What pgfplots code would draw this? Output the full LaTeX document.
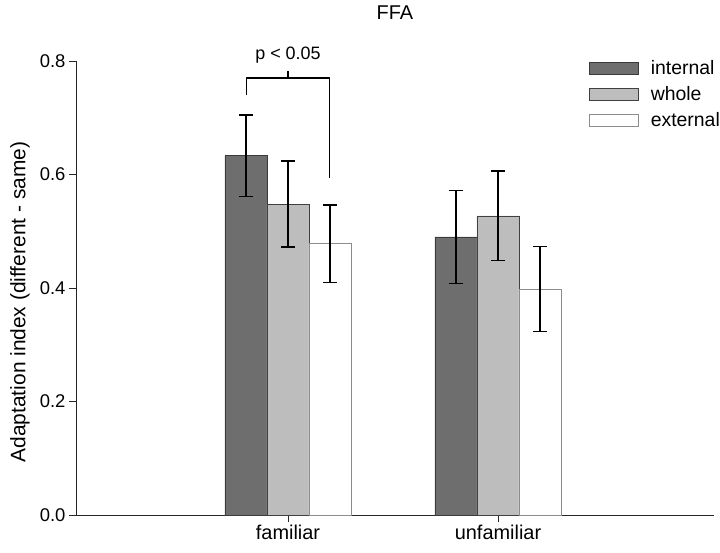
\documentclass[border=0pt]{standalone}
\usepackage{fontspec}
\setmainfont{Liberation Sans}
\usepackage{pgfplots}
\pgfplotsset{compat=1.18}
\definecolor{cint}{HTML}{6E6E6E}
\definecolor{cintd}{HTML}{3A3A3A}
\definecolor{cwho}{HTML}{BDBDBD}
\definecolor{cwhod}{HTML}{404040}
\definecolor{cextd}{HTML}{8C8C8C}
\definecolor{axc}{HTML}{262626}
\begin{document}
\begin{tikzpicture}
\path[use as bounding box] (-76bp,-38bp) rectangle (644bp,515bp);
\begin{axis}[
  at={(0,0)}, anchor=south west,
  scale only axis, width=638bp, height=454bp,
  xmin=-0.0095, xmax=3.0286, ymin=0, ymax=0.8,
  axis x line*=bottom, axis y line*=left,
  axis line style={axc, line width=0.9bp},
  tick style={axc, line width=0.9bp},
  tick align=outside, major tick length=7bp,
  xtick={1,2}, xticklabels={familiar,unfamiliar},
  ytick={0,0.2,0.4,0.6,0.8},
  /pgf/number format/assume math mode=true,
  yticklabel style={/pgf/number format/fixed, /pgf/number format/fixed zerofill, /pgf/number format/precision=1, font=\fontsize{18.5}{21}\selectfont},
  xticklabel style={font=\fontsize{20}{23}\selectfont},
  ylabel={Adaptation index (different - same)},
  ylabel style={at={(axis description cs:-0.0878,0.469)}, anchor=center, font=\fontsize{21}{25}\selectfont},
  clip=false,
  ybar, bar width=42bp,
  legend style={at={(axis description cs:0.804,1.0)}, anchor=north west, draw=none, fill=none, inner sep=0pt, outer sep=0pt,
    font=\fontsize{19.5}{22}\selectfont, row sep=12bp, column sep=12bp,
    nodes={inner sep=0pt, text height=14bp, text depth=0bp}},
  legend cell align=left,
  legend image code/.code={\draw[#1] (0bp,-6bp) rectangle (49bp,6bp);},
  error bars/error bar style={black, line width=1.4bp},
  error bars/error mark options={rotate=90, mark size=7bp, black, line width=1.4bp},
]
\addplot[bar shift=-42bp, fill=cint, draw=cintd, line width=0.8bp,
  error bars/.cd, y dir=both, y explicit]
  coordinates {(1,0.633) +- (0,0.072) (2,0.490) +- (0,0.082)};
\addplot[bar shift=0bp, fill=cwho, draw=cwhod, line width=0.8bp,
  error bars/.cd, y dir=both, y explicit]
  coordinates {(1,0.548) +- (0,0.076) (2,0.527) +- (0,0.079)};
\addplot[bar shift=42bp, fill=white, draw=cextd, line width=0.8bp,
  error bars/.cd, y dir=both, y explicit]
  coordinates {(1,0.478) +- (0,0.068) (2,0.398) +- (0,0.075)};
\legend{internal, whole, external}
\draw[black, line width=1.4bp] (axis cs:0.803,0.740) -- (axis cs:0.803,0.770) -- (axis cs:1.199,0.770) -- (axis cs:1.199,0.594);
\draw[black, line width=1.4bp] (axis cs:1.0,0.770) -- (axis cs:1.0,0.782);
\node[font=\fontsize{18}{21}\selectfont] at (axis cs:1.0,0.811) {p < 0.05};
\node[font=\fontsize{20}{23}\selectfont] at (axis description cs:0.5,1) [yshift=48bp] {FFA};
\end{axis}
\end{tikzpicture}
\end{document}
